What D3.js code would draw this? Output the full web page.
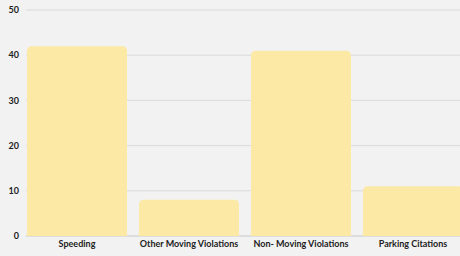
<html>
<head>
<script src="https://d3js.org/d3.v7.min.js"></script>
<style>
  body { margin: 0; background: #f2f2f2; }
  text { font-family: Lato, sans-serif; font-weight: 700; fill: #222; }
</style>
</head>
<body>
<script>

var categories = ["Speeding", "Other Moving Violations", "Non- Moving Violations", "Parking Citations"];
var values = [42, 8, 41, 11];
var yTicks = [0, 10, 20, 30, 40, 50];

var width = 460, height = 256;
var margin = {top: 10, right: -9, bottom: 20, left: 21};

var svg = d3.select("body").append("svg")
            .attr("width", width)
            .attr("height", height);

var x = d3.scaleBand()
          .domain(categories)
          .range([margin.left, width - margin.right])
          .paddingInner(0.107)
          .paddingOuter(0.0535);

var y = d3.scaleLinear()
          .domain([0, 50])
          .range([height - margin.bottom, margin.top]);

// gridlines
svg.append("g")
   .selectAll("line")
   .data(yTicks)
   .enter().append("line")
   .attr("x1", 26)
   .attr("x2", width)
   .attr("y1", function(d) { return y(d); })
   .attr("y2", function(d) { return y(d); })
   .attr("stroke", function(d) { return d === 0 ? "#c8c8c8" : "#dadada"; })
   .attr("stroke-width", 1);

// y labels
svg.append("g")
   .selectAll("text")
   .data(yTicks)
   .enter().append("text")
   .attr("x", 19)
   .attr("y", function(d) { return y(d); })
   .attr("dy", "0.35em")
   .attr("text-anchor", "end")
   .style("font-size", "9px")
   .text(function(d) { return d; });

// bars with rounded top corners
var r = 5;
svg.append("g")
   .selectAll("path")
   .data(values)
   .enter().append("path")
   .attr("fill", "#fce9a6")
   .attr("d", function(d, i) {
     var x0 = x(categories[i]), x1 = x0 + x.bandwidth();
     var y0 = y(0), y1 = y(d);
     return "M" + x0 + "," + y0 +
            "V" + (y1 + r) +
            "Q" + x0 + "," + y1 + " " + (x0 + r) + "," + y1 +
            "H" + (x1 - r) +
            "Q" + x1 + "," + y1 + " " + x1 + "," + (y1 + r) +
            "V" + y0 + "Z";
   });

// x labels
svg.append("g")
   .selectAll("text")
   .data(categories)
   .enter().append("text")
   .attr("x", function(d) { return x(d) + x.bandwidth() / 2; })
   .attr("y", 247)
   .attr("text-anchor", "middle")
   .style("font-size", "9px")
   .text(function(d) { return d; });

</script>
</body>
</html>
